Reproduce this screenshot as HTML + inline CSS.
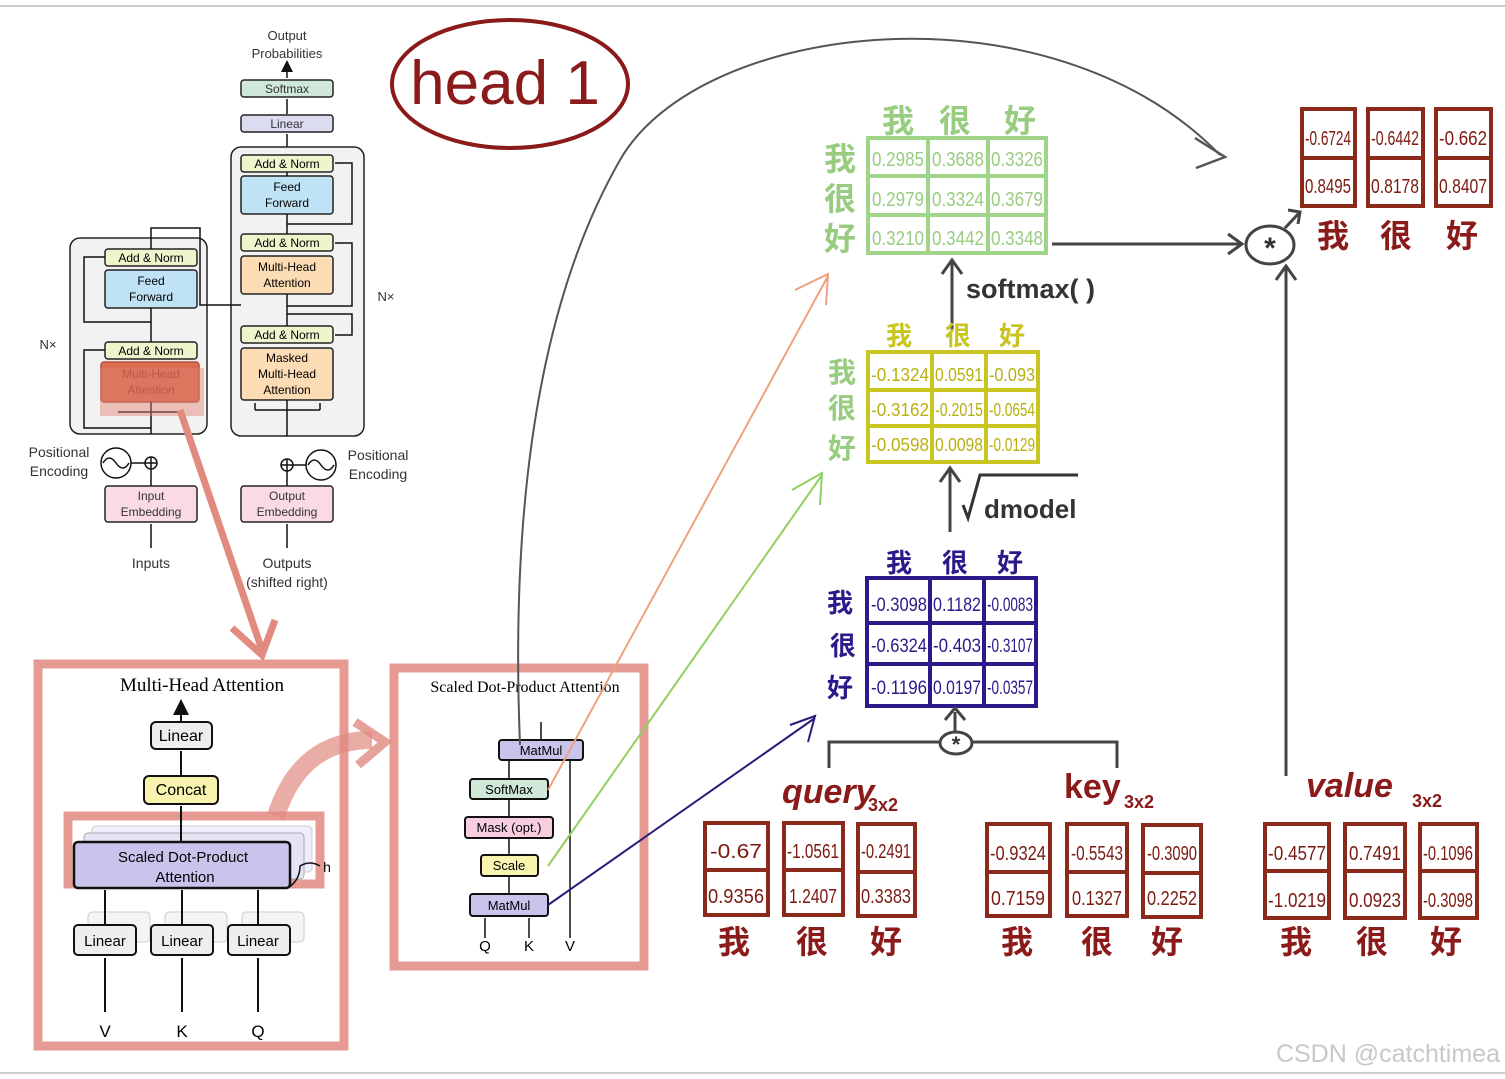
<!DOCTYPE html>
<html><head><meta charset="utf-8"><style>
html,body{margin:0;padding:0;background:#fff;}
svg{display:block}
.s{font-family:"Liberation Sans",sans-serif;}
.h{font-family:"Liberation Sans Narrow","Liberation Sans","Noto Sans CJK SC",sans-serif;}
.c{font-family:"Liberation Sans","Noto Sans CJK SC",sans-serif;font-weight:bold;}
</style></head><body>
<svg width="1505" height="1079" viewBox="0 0 1505 1079" xmlns="http://www.w3.org/2000/svg">
<defs>
<marker id="a" markerWidth="8" markerHeight="8" refX="6" refY="4" orient="auto"><path d="M0,0 L8,4 L0,8 z" fill="#111"/></marker>
</defs>
<rect width="1505" height="1079" fill="#fff"/>
<line x1="0" y1="6" x2="1505" y2="6" stroke="#ccc" stroke-width="2"/>
<line x1="0" y1="1073" x2="1505" y2="1073" stroke="#ccc" stroke-width="2"/>

<!-- ===== Transformer ===== -->
<g class="s" font-size="12" text-anchor="middle" stroke-width="1.5">
<text x="287" y="40" font-size="13" fill="#333">Output</text>
<text x="287" y="58" font-size="13" fill="#333">Probabilities</text>
<line x1="287" y1="78" x2="287" y2="63" stroke="#111" marker-end="url(#a)"/>
<rect x="241" y="80" width="92" height="17" rx="3" fill="#cfe8d8" stroke="#222"/><text x="287" y="93" fill="#333">Softmax</text>
<line x1="287" y1="114" x2="287" y2="99" stroke="#111"/>
<rect x="241" y="115" width="92" height="17" rx="3" fill="#dcdcf0" stroke="#222"/><text x="287" y="128" fill="#333">Linear</text>
<line x1="287" y1="147" x2="287" y2="134" stroke="#111"/>
<rect x="231" y="147" width="133" height="289" rx="10" fill="#f2f2f2" stroke="#222"/>
<rect x="241" y="155" width="92" height="17" rx="3" fill="#eef4cc" stroke="#222"/><text x="287" y="168">Add &amp; Norm</text>
<rect x="241" y="176" width="92" height="38" rx="3" fill="#bfe3f5" stroke="#222"/><text x="287" y="191">Feed</text><text x="287" y="207">Forward</text>
<rect x="241" y="234" width="92" height="17" rx="3" fill="#eef4cc" stroke="#222"/><text x="287" y="247">Add &amp; Norm</text>
<rect x="241" y="256" width="92" height="38" rx="3" fill="#fbdcb4" stroke="#222"/><text x="287" y="271">Multi-Head</text><text x="287" y="287">Attention</text>
<rect x="241" y="326" width="92" height="17" rx="3" fill="#eef4cc" stroke="#222"/><text x="287" y="339">Add &amp; Norm</text>
<rect x="241" y="348" width="92" height="52" rx="3" fill="#fbdcb4" stroke="#222"/><text x="287" y="362">Masked</text><text x="287" y="378">Multi-Head</text><text x="287" y="394">Attention</text>
<path d="M287 436 V400 M287 326 V294 M287 234 V214 M287 176 V172 M287 306 H352 V243 H335 M287 314 H352 V335 H335 M287 224 H352 V163 H335" fill="none" stroke="#111"/>
<path d="M255 410 V403 M320 410 V403 M255 410 H320" fill="none" stroke="#111"/>
<text x="386" y="301" font-size="13" fill="#333">N×</text>
<rect x="70" y="238" width="137" height="196" rx="10" fill="#f2f2f2" stroke="#222"/>
<rect x="105" y="249" width="92" height="17" rx="3" fill="#eef4cc" stroke="#222"/><text x="151" y="262">Add &amp; Norm</text>
<rect x="105" y="270" width="92" height="38" rx="3" fill="#bfe3f5" stroke="#222"/><text x="151" y="285">Feed</text><text x="151" y="301">Forward</text>
<rect x="105" y="342" width="92" height="17" rx="3" fill="#eef4cc" stroke="#222"/><text x="151" y="355">Add &amp; Norm</text>
<rect x="101" y="362" width="98" height="40" rx="3" fill="#d9603f" stroke="#b04030" opacity="0.9"/><text x="151" y="378" fill="#9a3a28">Multi-Head</text><text x="151" y="394" fill="#9a3a28">Attention</text>
<path d="M151 434 V402 M151 342 V308 M151 249 V228 H200 V305 H241 M151 428 H84 V350 H105 M151 322 H84 V257 H105 M118 412 H184" fill="none" stroke="#111"/>
<text x="48" y="349" font-size="13" fill="#333">N×</text>
<circle cx="151" cy="463" r="6" fill="#fff" stroke="#111"/><path d="M145 463 H157 M151 457 V469" stroke="#111"/>
<circle cx="116" cy="463" r="15" fill="#fff" stroke="#111"/><path d="M103 463 q6 -10 13 0 q7 10 13 0" fill="none" stroke="#111"/>
<line x1="131" y1="463" x2="145" y2="463" stroke="#111"/>
<text x="59" y="457" font-size="14" fill="#333">Positional</text><text x="59" y="476" font-size="14" fill="#333">Encoding</text>
<rect x="105" y="486" width="92" height="36" rx="3" fill="#fadbe3" stroke="#222"/><text x="151" y="500" fill="#333">Input</text><text x="151" y="516" fill="#333">Embedding</text>
<line x1="151" y1="486" x2="151" y2="469" stroke="#111"/>
<line x1="151" y1="548" x2="151" y2="524" stroke="#111"/>
<text x="151" y="568" font-size="14" fill="#333">Inputs</text>
<circle cx="287" cy="465" r="6" fill="#fff" stroke="#111"/><path d="M281 465 H293 M287 459 V471" stroke="#111"/>
<circle cx="321" cy="465" r="15" fill="#fff" stroke="#111"/><path d="M308 465 q6 -10 13 0 q7 10 13 0" fill="none" stroke="#111"/>
<line x1="293" y1="465" x2="306" y2="465" stroke="#111"/>
<text x="378" y="460" font-size="14" fill="#333">Positional</text><text x="378" y="479" font-size="14" fill="#333">Encoding</text>
<rect x="241" y="486" width="92" height="36" rx="3" fill="#fadbe3" stroke="#222"/><text x="287" y="500" fill="#333">Output</text><text x="287" y="516" fill="#333">Embedding</text>
<line x1="287" y1="486" x2="287" y2="471" stroke="#111"/>
<line x1="287" y1="548" x2="287" y2="524" stroke="#111"/>
<text x="287" y="568" font-size="14" fill="#333">Outputs</text><text x="287" y="587" font-size="14" fill="#333">(shifted right)</text>
</g>
<rect x="100" y="368" width="104" height="48" fill="#e08070" opacity="0.45"/>
<path d="M180 410 L262 650" stroke="#e08a80" stroke-width="7" fill="none"/>
<path d="M232 628 L262 655 L275 620" stroke="#e08a80" stroke-width="7" fill="none"/>

<ellipse cx="510" cy="84" rx="118" ry="64" fill="none" stroke="#8b1a1a" stroke-width="4"/>
<text x="505" y="104" font-family="Liberation Sans" font-size="62" fill="#8b1a1a" text-anchor="middle">head 1</text>

<!-- ===== Multi-Head Attention panel ===== -->
<rect x="38" y="664" width="306" height="382" fill="none" stroke="#e08a80" stroke-width="9" opacity="0.85"/>
<g class="s" text-anchor="middle" font-size="16">
<text x="202" y="691" font-size="19" font-family="Liberation Serif">Multi-Head Attention</text>
<line x1="181" y1="722" x2="181" y2="703" stroke="#111" stroke-width="2" marker-end="url(#a)"/>
<rect x="151" y="722" width="61" height="27" rx="5" fill="#eee" stroke="#111" stroke-width="2"/><text x="181" y="741">Linear</text>
<line x1="181" y1="776" x2="181" y2="751" stroke="#111" stroke-width="2"/>
<rect x="144" y="776" width="74" height="28" rx="5" fill="#f8f4b0" stroke="#111" stroke-width="2"/><text x="181" y="795">Concat</text>
<rect x="68" y="816" width="252" height="68" fill="none" stroke="#e08a80" stroke-width="9" opacity="0.85"/>
<rect x="92" y="826" width="220" height="46" rx="4" fill="#eef" stroke="#ccc"/>
<rect x="84" y="833" width="220" height="46" rx="4" fill="#e4e4f4" stroke="#aaa"/>
<rect x="74" y="842" width="216" height="46" rx="4" fill="#c8c4ec" stroke="#111" stroke-width="2.5"/>
<text x="183" y="862" font-size="15">Scaled Dot-Product</text><text x="185" y="882" font-size="15">Attention</text>
<line x1="181" y1="842" x2="181" y2="806" stroke="#111" stroke-width="2"/>
<text x="327" y="872" font-size="14">h</text>
<path d="M288 888 Q300 880 300 866 Q310 860 320 866" stroke="#111" fill="none" stroke-width="1.5"/>
<g font-size="15">
<rect x="88" y="912" width="62" height="30" rx="4" fill="#f4f4f4" stroke="#ccc"/><rect x="74" y="925" width="62" height="30" rx="4" fill="#eee" stroke="#111" stroke-width="2"/><text x="105" y="946">Linear</text>
<rect x="165" y="912" width="62" height="30" rx="4" fill="#f4f4f4" stroke="#ccc"/><rect x="151" y="925" width="62" height="30" rx="4" fill="#eee" stroke="#111" stroke-width="2"/><text x="182" y="946">Linear</text>
<rect x="242" y="912" width="62" height="30" rx="4" fill="#f4f4f4" stroke="#ccc"/><rect x="228" y="925" width="62" height="30" rx="4" fill="#eee" stroke="#111" stroke-width="2"/><text x="258" y="946">Linear</text>
</g>
<path d="M105 1012 V958 M182 1012 V958 M258 1012 V958 M105 925 V890 M182 925 V890 M258 925 V890" stroke="#111" stroke-width="2"/>
<text x="105" y="1037" font-size="17">V</text><text x="182" y="1037" font-size="17">K</text><text x="258" y="1037" font-size="17">Q</text>
</g>
<path d="M276 816 Q300 740 372 740" stroke="#e08a80" stroke-width="18" fill="none" opacity="0.7"/>
<path d="M355 722 L385 742 L358 765" stroke="#e08a80" stroke-width="9" fill="none" opacity="0.8"/>

<!-- ===== Scaled Dot-Product panel ===== -->
<rect x="394" y="668" width="250" height="298" fill="none" stroke="#e08a80" stroke-width="9" opacity="0.85"/>
<g class="s" text-anchor="middle" font-size="13">
<text x="525" y="692" font-family="Liberation Serif" font-size="16">Scaled Dot-Product Attention</text>
<line x1="541" y1="740" x2="541" y2="722" stroke="#111" stroke-width="1.5"/>
<rect x="499" y="740" width="84" height="20" rx="3" fill="#c8c4ec" stroke="#111" stroke-width="2"/><text x="541" y="755">MatMul</text>
<rect x="470" y="779" width="78" height="20" rx="3" fill="#cfe8d8" stroke="#111" stroke-width="2"/><text x="509" y="794">SoftMax</text>
<rect x="465" y="817" width="88" height="21" rx="3" fill="#f8cde0" stroke="#111" stroke-width="2"/><text x="509" y="832">Mask (opt.)</text>
<rect x="481" y="855" width="57" height="21" rx="3" fill="#f8f4b0" stroke="#111" stroke-width="2"/><text x="509" y="870">Scale</text>
<rect x="470" y="894" width="78" height="22" rx="3" fill="#c8c4ec" stroke="#111" stroke-width="2"/><text x="509" y="910">MatMul</text>
<path d="M509 894 V876 M509 855 V838 M509 817 V799 M509 779 V760 M570 938 V760 M485 938 V918 M529 938 V918" stroke="#111" stroke-width="1.5"/>
<text x="485" y="951" font-size="15">Q</text><text x="529" y="951" font-size="15">K</text><text x="570" y="951" font-size="15">V</text>
</g>
<path d="M520 745 C510 500 540 300 620 160 C700 20 1050 -20 1220 155" stroke="#555" stroke-width="2" fill="none"/>
<path d="M1195 138 L1225 157 L1196 168" stroke="#555" stroke-width="2.5" fill="none"/>
<line x1="548" y1="790" x2="828" y2="276" stroke="#f0a080" stroke-width="2"/>
<path d="M795 290 L828 274 L826 305" stroke="#f0a080" stroke-width="2" fill="none"/>
<line x1="548" y1="866" x2="822" y2="475" stroke="#90d060" stroke-width="2"/>
<path d="M792 490 L822 473 L820 505" stroke="#90d060" stroke-width="2" fill="none"/>
<line x1="548" y1="905" x2="815" y2="718" stroke="#2a1a7a" stroke-width="2"/>
<path d="M790 725 L815 716 L808 742" stroke="#2a1a7a" stroke-width="2" fill="none"/>

<!-- ===== Green softmax matrix ===== -->
<g stroke="#a0d488" stroke-width="4" fill="none">
<rect x="868" y="138" width="178" height="115"/>
<path d="M928 138 V253 M988 138 V253 M868 176 H1046 M868 215 H1046"/>
</g>
<g class="h" fill="#98cc80" font-size="20" text-anchor="middle" lengthAdjust="spacingAndGlyphs">
<text x="898" y="166" textLength="52" lengthAdjust="spacingAndGlyphs">0.2985</text><text x="958" y="166" textLength="52" lengthAdjust="spacingAndGlyphs">0.3688</text><text x="1017" y="166" textLength="52" lengthAdjust="spacingAndGlyphs">0.3326</text>
<text x="898" y="206" textLength="52" lengthAdjust="spacingAndGlyphs">0.2979</text><text x="958" y="206" textLength="52" lengthAdjust="spacingAndGlyphs">0.3324</text><text x="1017" y="206" textLength="52" lengthAdjust="spacingAndGlyphs">0.3679</text>
<text x="898" y="245" textLength="52" lengthAdjust="spacingAndGlyphs">0.3210</text><text x="958" y="245" textLength="52" lengthAdjust="spacingAndGlyphs">0.3442</text><text x="1017" y="245" textLength="52" lengthAdjust="spacingAndGlyphs">0.3348</text>
</g>
<g class="c" fill="#98cc80" font-size="32" text-anchor="middle"><text x="898" y="132">我</text><text x="955" y="132">很</text><text x="1020" y="132">好</text>
<text x="840" y="170">我</text><text x="840" y="210">很</text><text x="840" y="250">好</text></g>
<line x1="952" y1="330" x2="952" y2="262" stroke="#444" stroke-width="3"/>
<path d="M942 274 L952 260 L962 274" stroke="#444" stroke-width="3" fill="none"/>
<text x="966" y="298" font-family="Liberation Sans" font-size="27" font-weight="bold" fill="#333">softmax( )</text>

<!-- ===== Yellow matrix ===== -->
<g stroke="#c8c420" stroke-width="4" fill="none">
<rect x="868" y="352" width="170" height="110"/>
<path d="M932 352 V462 M986 352 V462 M868 390 H1038 M868 426 H1038"/>
</g>
<g class="h" fill="#b8b010" font-size="18" text-anchor="middle">
<text x="900" y="381" textLength="58" lengthAdjust="spacingAndGlyphs">-0.1324</text><text x="959" y="381" textLength="48" lengthAdjust="spacingAndGlyphs">0.0591</text><text x="1012" y="381" textLength="46" lengthAdjust="spacingAndGlyphs">-0.093</text>
<text x="900" y="416" textLength="58" lengthAdjust="spacingAndGlyphs">-0.3162</text><text x="959" y="416" textLength="48" lengthAdjust="spacingAndGlyphs">-0.2015</text><text x="1012" y="416" textLength="46" lengthAdjust="spacingAndGlyphs">-0.0654</text>
<text x="900" y="451" textLength="58" lengthAdjust="spacingAndGlyphs">-0.0598</text><text x="959" y="451" textLength="48" lengthAdjust="spacingAndGlyphs">0.0098</text><text x="1012" y="451" textLength="46" lengthAdjust="spacingAndGlyphs">-0.0129</text>
</g>
<g class="c" font-size="26" text-anchor="middle" fill="#c8c420"><text x="899" y="345">我</text><text x="958" y="345">很</text><text x="1012" y="345">好</text></g>
<g class="c" font-size="28" text-anchor="middle" fill="#98cc80"><text x="842" y="382">我</text><text x="842" y="418">很</text><text x="842" y="458">好</text></g>
<line x1="950" y1="532" x2="950" y2="470" stroke="#444" stroke-width="3"/>
<path d="M940 482 L950 468 L960 482" stroke="#444" stroke-width="3" fill="none"/>
<path d="M963 505 L968 518 L980 475 H1078" stroke="#333" stroke-width="3" fill="none"/>
<text x="984" y="518" font-family="Liberation Sans" font-size="26" font-weight="bold" fill="#333">dmodel</text>

<!-- ===== Purple matrix ===== -->
<g stroke="#2a1a8a" stroke-width="4" fill="none">
<rect x="867" y="578" width="169" height="128"/>
<path d="M930 578 V706 M984 578 V706 M867 623 H1036 M867 664 H1036"/>
</g>
<g class="h" fill="#2a1a8a" font-size="19" text-anchor="middle">
<text x="899" y="611" textLength="56" lengthAdjust="spacingAndGlyphs">-0.3098</text><text x="957" y="611" textLength="48" lengthAdjust="spacingAndGlyphs">0.1182</text><text x="1010" y="611" textLength="46" lengthAdjust="spacingAndGlyphs">-0.0083</text>
<text x="899" y="652" textLength="56" lengthAdjust="spacingAndGlyphs">-0.6324</text><text x="957" y="652" textLength="48" lengthAdjust="spacingAndGlyphs">-0.403</text><text x="1010" y="652" textLength="46" lengthAdjust="spacingAndGlyphs">-0.3107</text>
<text x="899" y="694" textLength="56" lengthAdjust="spacingAndGlyphs">-0.1196</text><text x="957" y="694" textLength="48" lengthAdjust="spacingAndGlyphs">0.0197</text><text x="1010" y="694" textLength="46" lengthAdjust="spacingAndGlyphs">-0.0357</text>
</g>
<g class="c" font-size="26" text-anchor="middle" fill="#2a1a8a"><text x="899" y="572">我</text><text x="955" y="572">很</text><text x="1010" y="572">好</text>
<text x="840" y="612">我</text><text x="843" y="655">很</text><text x="840" y="697">好</text></g>
<line x1="955" y1="734" x2="955" y2="712" stroke="#444" stroke-width="3"/>
<path d="M945 720 L955 708 L965 720" stroke="#444" stroke-width="3" fill="none"/>
<ellipse cx="956" cy="743" rx="16" ry="11" fill="#fff" stroke="#444" stroke-width="3"/>
<text x="956" y="752" font-family="Liberation Sans" font-size="22" font-weight="bold" fill="#333" text-anchor="middle">*</text>
<path d="M829 768 V742 H940 M972 742 H1117 V768" stroke="#444" stroke-width="3" fill="none"/>

<line x1="1052" y1="244" x2="1242" y2="244" stroke="#444" stroke-width="3"/>
<path d="M1228 234 L1242 244 L1228 254" stroke="#444" stroke-width="3" fill="none"/>
<line x1="1286" y1="776" x2="1286" y2="268" stroke="#444" stroke-width="3"/>
<path d="M1276 280 L1286 266 L1296 280" stroke="#444" stroke-width="3" fill="none"/>
<ellipse cx="1270" cy="245" rx="24" ry="19" fill="#fff" stroke="#444" stroke-width="3"/>
<text x="1270" y="258" font-family="Liberation Sans" font-size="30" font-weight="bold" fill="#333" text-anchor="middle">*</text>
<path d="M1285 228 L1300 212 M1288 210 L1300 212 L1298 224" stroke="#444" stroke-width="3" fill="none"/>

<g stroke="#8b2a1a" stroke-width="4" fill="none">
<rect x="1302" y="109" width="53" height="97"/><line x1="1302" y1="158" x2="1355" y2="158"/>
<rect x="1368" y="109" width="55" height="97"/><line x1="1368" y1="158" x2="1423" y2="158"/>
<rect x="1436" y="109" width="55" height="97"/><line x1="1436" y1="158" x2="1491" y2="158"/>
<rect x="705" y="823" width="63" height="92"/><line x1="705" y1="870" x2="768" y2="870"/>
<rect x="784" y="823" width="59" height="92"/><line x1="784" y1="870" x2="843" y2="870"/>
<rect x="858" y="824" width="57" height="92"/><line x1="858" y1="872" x2="915" y2="872"/>
<rect x="987" y="824" width="63" height="92"/><line x1="987" y1="872" x2="1050" y2="872"/>
<rect x="1067" y="824" width="60" height="92"/><line x1="1067" y1="872" x2="1127" y2="872"/>
<rect x="1143" y="825" width="58" height="92"/><line x1="1143" y1="873" x2="1201" y2="873"/>
<rect x="1265" y="824" width="64" height="94"/><line x1="1265" y1="871" x2="1329" y2="871"/>
<rect x="1345" y="824" width="60" height="94"/><line x1="1345" y1="871" x2="1405" y2="871"/>
<rect x="1420" y="824" width="57" height="94"/><line x1="1420" y1="871" x2="1477" y2="871"/>
</g>
<g class="h" fill="#7a1a10" font-size="20" text-anchor="middle">
<text x="1328" y="145" textLength="46" lengthAdjust="spacingAndGlyphs">-0.6724</text><text x="1395" y="145" textLength="48" lengthAdjust="spacingAndGlyphs">-0.6442</text><text x="1463" y="145" textLength="48" lengthAdjust="spacingAndGlyphs">-0.662</text>
<text x="1328" y="193" textLength="46" lengthAdjust="spacingAndGlyphs">0.8495</text><text x="1395" y="193" textLength="48" lengthAdjust="spacingAndGlyphs">0.8178</text><text x="1463" y="193" textLength="48" lengthAdjust="spacingAndGlyphs">0.8407</text>
<text x="736" y="858" textLength="52" lengthAdjust="spacingAndGlyphs">-0.67</text><text x="813" y="858" textLength="52" lengthAdjust="spacingAndGlyphs">-1.0561</text><text x="886" y="858" textLength="50" lengthAdjust="spacingAndGlyphs">-0.2491</text>
<text x="736" y="903" textLength="56" lengthAdjust="spacingAndGlyphs">0.9356</text><text x="813" y="903" textLength="48" lengthAdjust="spacingAndGlyphs">1.2407</text><text x="886" y="903" textLength="50" lengthAdjust="spacingAndGlyphs">0.3383</text>
<text x="1018" y="860" textLength="56" lengthAdjust="spacingAndGlyphs">-0.9324</text><text x="1097" y="860" textLength="52" lengthAdjust="spacingAndGlyphs">-0.5543</text><text x="1172" y="860" textLength="50" lengthAdjust="spacingAndGlyphs">-0.3090</text>
<text x="1018" y="905" textLength="54" lengthAdjust="spacingAndGlyphs">0.7159</text><text x="1097" y="905" textLength="50" lengthAdjust="spacingAndGlyphs">0.1327</text><text x="1172" y="905" textLength="50" lengthAdjust="spacingAndGlyphs">0.2252</text>
<text x="1297" y="860" textLength="58" lengthAdjust="spacingAndGlyphs">-0.4577</text><text x="1375" y="860" textLength="52" lengthAdjust="spacingAndGlyphs">0.7491</text><text x="1448" y="860" textLength="50" lengthAdjust="spacingAndGlyphs">-0.1096</text>
<text x="1297" y="907" textLength="58" lengthAdjust="spacingAndGlyphs">-1.0219</text><text x="1375" y="907" textLength="52" lengthAdjust="spacingAndGlyphs">0.0923</text><text x="1448" y="907" textLength="50" lengthAdjust="spacingAndGlyphs">-0.3098</text>
</g>
<g class="c" fill="#8b1a1a" font-size="32" text-anchor="middle">
<text x="1333" y="247">我</text><text x="1396" y="247">很</text><text x="1462" y="247">好</text>
<text x="734" y="953">我</text><text x="812" y="953">很</text><text x="886" y="953">好</text>
<text x="1017" y="953">我</text><text x="1097" y="953">很</text><text x="1167" y="953">好</text>
<text x="1296" y="953">我</text><text x="1372" y="953">很</text><text x="1446" y="953">好</text>
</g>
<g font-family="Liberation Sans" font-weight="bold" fill="#8b1a1a">
<text x="782" y="803" font-size="34" font-style="italic">query</text><text x="868" y="811" font-size="18">3x2</text>
<text x="1064" y="798" font-size="34">key</text><text x="1124" y="808" font-size="18">3x2</text>
<text x="1306" y="797" font-size="34" font-style="italic">value</text><text x="1412" y="807" font-size="18">3x2</text>
</g>
<text x="1500" y="1062" font-family="Liberation Sans" font-size="25" fill="#c8c8c8" text-anchor="end">CSDN @catchtimea</text>
</svg>
</body></html>
